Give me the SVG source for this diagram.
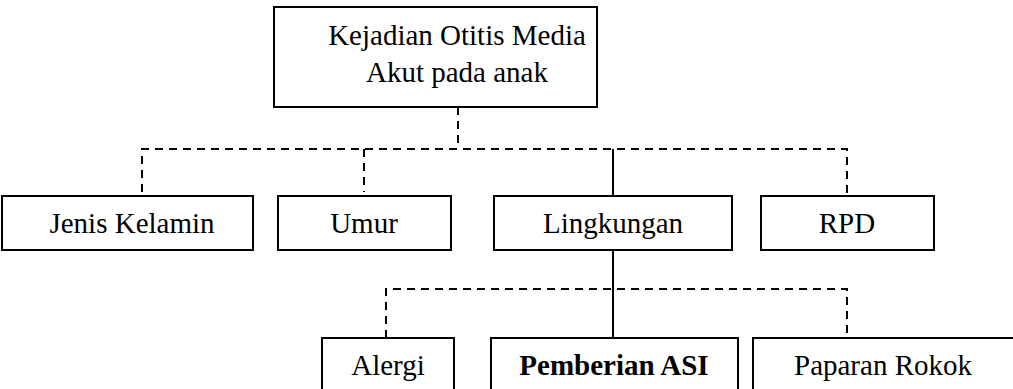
<svg xmlns="http://www.w3.org/2000/svg" width="1013" height="389" viewBox="0 0 1013 389">
<style>
.box{fill:#fff;stroke:#000;stroke-width:2}
.t{font-family:"Liberation Serif","Times New Roman",serif;font-size:29px;fill:#000;text-anchor:middle}
.b{font-weight:bold}
.d{fill:none;stroke:#000;stroke-width:2;stroke-dasharray:8,6}
.s{fill:none;stroke:#000;stroke-width:2}
</style>
<rect width="1013" height="389" fill="#fff"/>
<g id="connectors">
<path class="d" d="M458,107 V149"/>
<path class="d" d="M142,192 V149 H847 V196"/>
<path class="d" d="M364,149 V192"/>
<path class="s" d="M613,149 V196"/>
<path class="s" d="M613,250 V338"/>
<path class="d" d="M386,338 V289 H847 V338"/>
</g>
<g id="n-top"><rect class="box" x="274" y="7" width="323" height="100"/><text class="t" x="457" y="45">Kejadian Otitis Media</text><text class="t" x="457" y="82">Akut pada anak</text></g>
<g id="n-jenis"><rect class="box" x="2" y="196" width="251" height="54"/><text class="t" x="132" y="233">Jenis Kelamin</text></g>
<g id="n-umur"><rect class="box" x="278" y="196" width="173" height="54"/><text class="t" x="364" y="233">Umur</text></g>
<g id="n-ling"><rect class="box" x="494" y="196" width="238" height="54"/><text class="t" x="613" y="233">Lingkungan</text></g>
<g id="n-rpd"><rect class="box" x="761" y="196" width="173" height="54"/><text class="t" x="847" y="233">RPD</text></g>
<g id="n-alergi"><rect class="box" x="322" y="338" width="132" height="60"/><text class="t" x="388" y="375">Alergi</text></g>
<g id="n-asi"><rect class="box" x="491" y="338" width="247" height="60"/><text class="t b" x="614" y="375">Pemberian ASI</text></g>
<g id="n-rokok"><rect class="box" x="753" y="338" width="270" height="60"/><text class="t" x="883" y="375">Paparan Rokok</text></g>
</svg>
